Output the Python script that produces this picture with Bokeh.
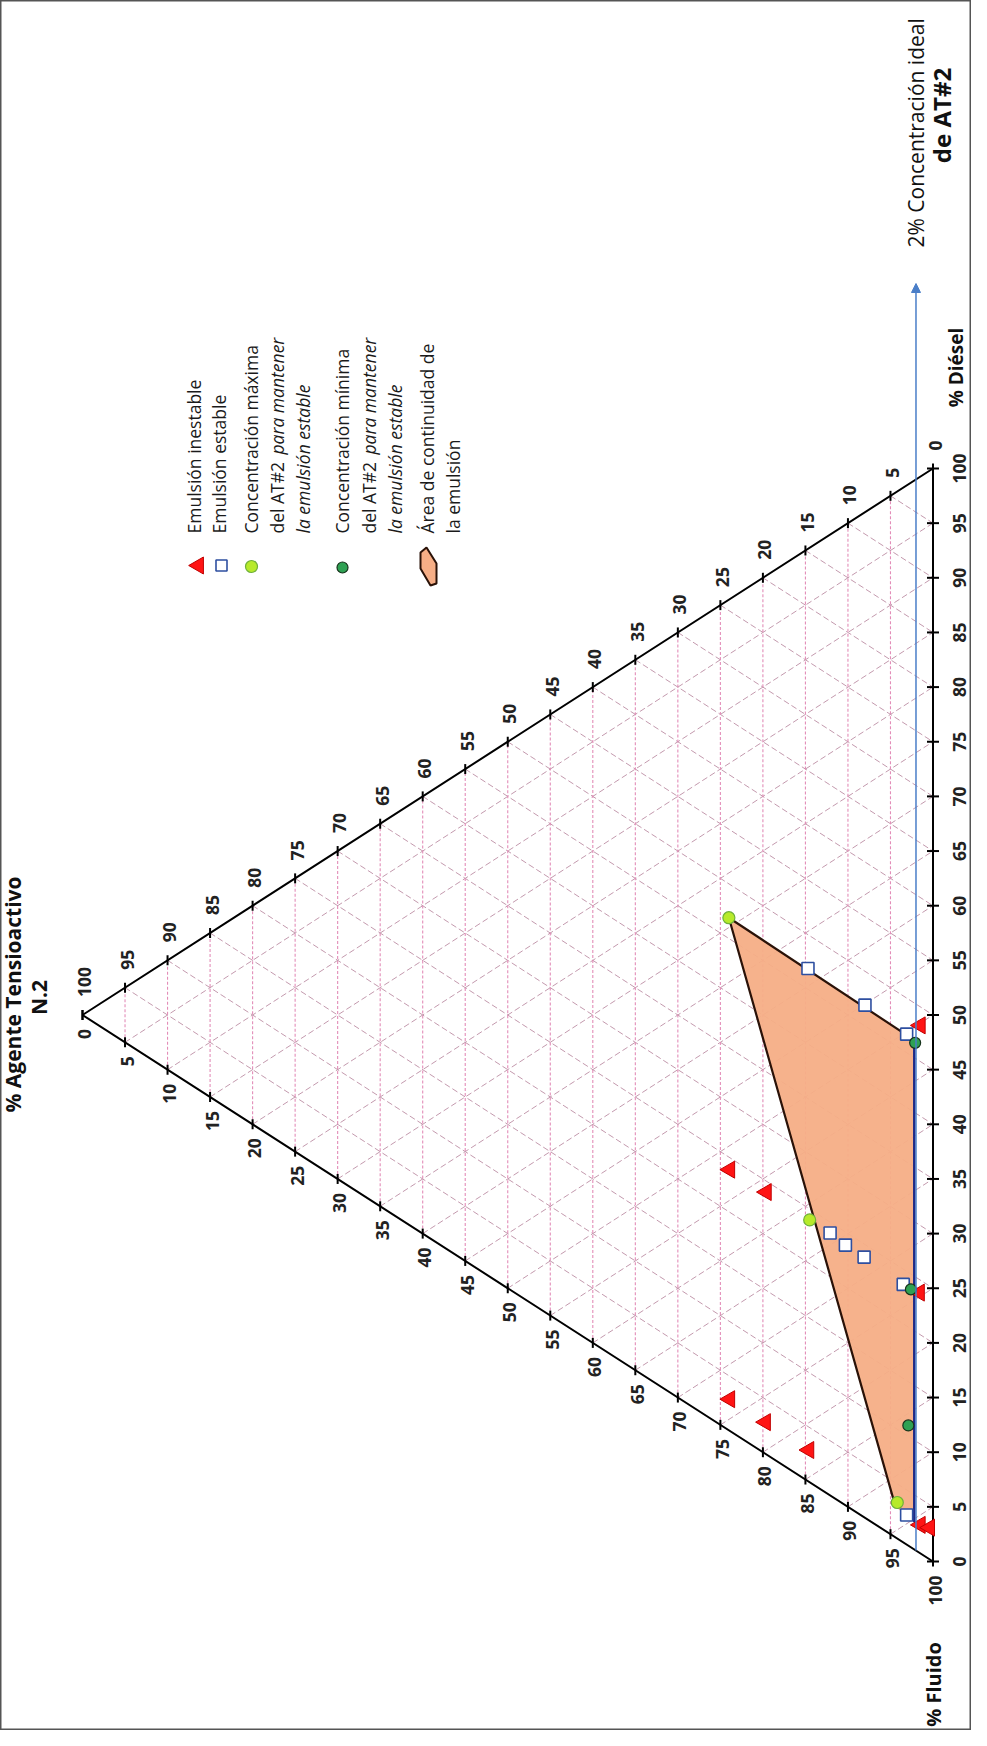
import numpy as np
from bokeh.plotting import figure
from bokeh.models import Range1d, Arrow, NormalHead
from bokeh.core.properties import value
from bokeh.embed import file_html
from bokeh.resources import INLINE

# ---------------- data (% AT#2, % Fluido, % Diésel) ----------------
tick_values = list(range(0, 101, 5))
grid_values = list(range(5, 100, 5))

inest_at = [23.9, 19.6, 1.6, 1.5, 23.9, 19.7, 14.6, 1.5, 0.4]
inest_fl = [52.2, 56.4, 74.6, 50.2, 73.2, 77.4, 82.5, 95.9, 96.7]
inest_di = [23.9, 24.0, 23.8, 48.3, 2.9, 2.9, 2.9, 2.6, 2.9]

est_at = [12.1, 10.3, 8.1, 3.5, 14.7, 8.0, 3.1, 3.1]
est_fl = [63.9, 65.9, 68.1, 72.9, 38.4, 45.1, 50.2, 94.2]
est_di = [24.0, 23.8, 23.8, 23.6, 46.9, 46.9, 46.7, 2.7]

max_at = [24.0, 14.5, 4.2]
max_fl = [29.1, 61.5, 92.5]
max_di = [46.9, 24.0, 3.3]

min_at = [2.1, 2.6, 2.9]
min_fl = [51.5, 73.8, 86.1]
min_di = [46.4, 23.6, 11.0]

area_at = [24.0, 2.2, 2.2, 4.4]
area_fl = [29.1, 51.2, 95.3, 92.8]
area_di = [46.9, 46.6, 2.5, 2.8]

ideal_at = 2.0

legend_labels = ["Emulsión inestable", "Emulsión estable",
                 "Concentración máxima", "Concentración mínima",
                 "Área de continuidad de", "la emulsión"]

# ---------------- layout ----------------
PAGE_H = 1746
APEX = (90.0, 1022.5)
FV = (940.5, 1569.0)
DV = (940.5, 476.0)
FONT = value("Open Sans")
ROT = np.pi / 2


def tern(a, f, d):
    a = np.asarray(a, float)
    f = np.asarray(f, float)
    d = np.asarray(d, float)
    s = a + f + d
    px = (a * APEX[0] + f * FV[0] + d * DV[0]) / s
    py = (a * APEX[1] + f * FV[1] + d * DV[1]) / s
    return px, PAGE_H - py


def Y(page_y):
    return PAGE_H - page_y


p = figure(width=971, height=1730, x_range=Range1d(8, 979), y_range=Range1d(8, 1738),
           output_backend="svg", toolbar_location=None, min_border=0,
           x_axis_type=None, y_axis_type=None)
p.grid.visible = False
p.outline_line_color = "#555555"
p.outline_line_width = 2
p.background_fill_color = "white"

# grid lines
vx, vy, dx, dy = [], [], [], []
for k in grid_values:
    x0, y0 = tern(k, 100 - k, 0)
    x1, y1 = tern(k, 0, 100 - k)
    vx.append([float(x0), float(x1)]); vy.append([float(y0), float(y1)])
    x0, y0 = tern(100 - k, 0, k)
    x1, y1 = tern(0, 100 - k, k)
    dx.append([float(x0), float(x1)]); dy.append([float(y0), float(y1)])
    x0, y0 = tern(100 - k, k, 0)
    x1, y1 = tern(0, k, 100 - k)
    dx.append([float(x0), float(x1)]); dy.append([float(y0), float(y1)])
p.multi_line(dx, dy, line_color="#C49AAE", line_width=1, line_dash="6 3")
p.multi_line(vx, vy, line_color="#E38DB8", line_width=1.1, line_dash="3 2")

# emulsion area
ax_, ay_ = tern(area_at, area_fl, area_di)
p.patch(list(ax_), list(ay_), fill_color="#F6AE86", fill_alpha=0.95, line_color=None)
p.line([ax_[3], ax_[0], ax_[1]], [ay_[3], ay_[0], ay_[1]], line_color="#2A1208", line_width=2.2)

# triangle edges
tx = [APEX[0], DV[0], FV[0], APEX[0]]
ty = [Y(APEX[1]), Y(DV[1]), Y(FV[1]), Y(APEX[1])]
p.line(tx, ty, line_color="black", line_width=2)

# ideal line with arrow
ix0, iy0 = tern(ideal_at, 100 - ideal_at, 0)
p.add_layout(Arrow(end=NormalHead(size=9, fill_color="#4A7EC8", line_color="#4A7EC8"),
                   x_start=float(ix0), y_start=float(iy0), x_end=float(ix0), y_end=Y(291),
                   line_color="#4A7EC8", line_width=1.5))
p.line([ax_[1], ax_[2]], [ay_[1], ay_[2]], line_color="#1F2A86", line_width=2.5)

# ticks and labels
tkx, tky = [], []
up_x, up_y, lo_x, lo_y, ba_x, ba_y = [], [], [], [], [], []
for k in tick_values:
    x, y = tern(k, 0, 100 - k)
    tkx.append([float(x), float(x)]); tky.append([float(y) - 5, float(y) + 5])
    up_x.append(float(x) + 2); up_y.append(float(y) + 18)
    x, y = tern(100 - k, k, 0)
    tkx.append([float(x), float(x)]); tky.append([float(y) - 5, float(y) + 5])
    lo_x.append(float(x) + 2); lo_y.append(float(y) - 14)
    x, y = tern(0, 100 - k, k)
    tkx.append([float(x) - 6, float(x) + 6]); tky.append([float(y), float(y)])
    ba_x.append(float(x) + 26); ba_y.append(float(y))
p.multi_line(tkx, tky, line_color="black", line_width=2)
lbl = [str(k) for k in tick_values]
common = dict(angle=ROT, text_font=FONT, text_font_size="17.5px", text_font_style="bold",
              text_color="#222222", text_baseline="middle")
p.text(up_x, up_y, text=lbl, text_align="left", **common)
p.text(lo_x, lo_y, text=lbl, text_align="right", **common)
p.text(ba_x, ba_y, text=lbl, text_align="center", **common)

# data markers
x, y = tern(inest_at, inest_fl, inest_di)
p.scatter(x, y, marker="triangle", size=17, angle=ROT, fill_color="#FF1414", line_color="#C00000")
x, y = tern(est_at, est_fl, est_di)
p.scatter(x, y, marker="square", size=12, fill_color="white", line_color="#2E4FA0", line_width=1.6)
x, y = tern(max_at, max_fl, max_di)
p.scatter(x, y, marker="circle", size=12, fill_color="#B7EA2A", line_color="#6FB03A", line_width=1.2)
x, y = tern(min_at, min_fl, min_di)
p.scatter(x, y, marker="circle", size=11, fill_color="#2FA153", line_color="#17331C", line_width=1.2)

# titles
tcom = dict(angle=ROT, text_font=FONT, text_color="#111111", text_baseline="middle",
            text_align="center", text_font_style="bold")
p.text([20], [Y(1002)], text=["% Agente Tensioactivo"], text_font_size="21px", **tcom)
p.text([46], [Y(1005)], text=["N.2"], text_font_size="21px", **tcom)
p.text([941], [Y(1692)], text=["% Fluido"], text_font_size="20px", **tcom)
p.text([963], [Y(375)], text=["% Diésel"], text_font_size="19px", **tcom)
p.text([923], [Y(255)], text=["2% Concentración ideal"], angle=ROT, text_font=FONT,
       text_font_size="21px", text_color="#111111", text_baseline="middle", text_align="left")
p.text([949], [Y(123)], text=["de AT#2"], text_font_size="24px", **tcom)

# legend
p.scatter([206], [Y(573)], marker="triangle", size=17, angle=ROT, fill_color="#FF1414", line_color="#C00000")
p.scatter([229], [Y(573)], marker="square", size=11, fill_color="white", line_color="#2E4FA0", line_width=1.6)
p.scatter([259], [Y(574)], marker="circle", size=12, fill_color="#B7EA2A", line_color="#6FB03A", line_width=1.2)
p.scatter([350], [Y(575)], marker="circle", size=11, fill_color="#2FA153", line_color="#17331C", line_width=1.2)
icon_dx = [-8, -2, 8, 8, 2, -8]
icon_dy = [-14, -19, -3, 17, 19, 2]
p.patch([436 + v for v in icon_dx], [Y(574 + v) for v in icon_dy],
        fill_color="#F6AE86", line_color="#2A1208", line_width=2)

lcom = dict(angle=ROT, text_font=FONT, text_font_size="17.5px", text_color="#1a1a1a",
            text_baseline="middle", text_align="left")
p.text([201, 226, 258, 349, 434, 460], [Y(541)] * 6, text=legend_labels, **lcom)
p.text([284, 376], [Y(541)] * 2, text=["del AT#2", "del AT#2"], **lcom)
p.text([284, 376], [Y(462)] * 2, text=["para mantener", "para mantener"],
       text_font_style="italic", **lcom)
p.text([310, 402], [Y(541)] * 2, text=["la emulsión estable", "la emulsión estable"],
       text_font_style="italic", **lcom)

open("out.html", "w").write(file_html(p, INLINE))
